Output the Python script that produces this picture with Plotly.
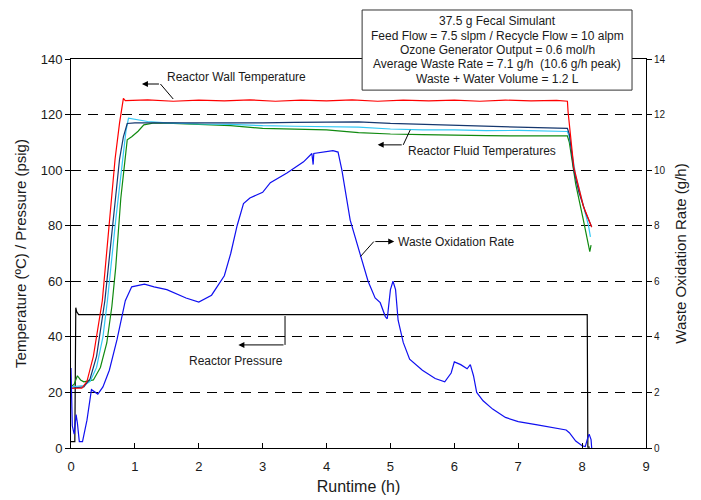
import plotly.graph_objects as go

# ---- Reactor wall temperature (degC) ----
wall_t = [0, 0.17, 0.25, 0.35, 0.49, 0.6, 0.69, 0.76, 0.82, 0.85, 1.2, 1.6, 2.0, 2.4, 2.8, 3.2,
          3.6, 4.0, 4.4, 4.8, 5.2, 5.6, 6.0, 6.4, 6.8, 7.2, 7.6, 7.77, 7.78, 7.87, 8.02, 8.15]
wall_v = [21.5, 21.5, 24, 33, 53, 80, 104, 117, 125.8, 125, 125.3, 124.8, 125.2, 124.9, 125.3, 124.8,
          125.2, 124.9, 125.3, 124.8, 125.2, 124.9, 125.2, 124.8, 125.2, 124.9, 125.1, 124.8, 121, 101, 87, 79.5]

# ---- Reactor fluid temperatures (degC) ----
fluid1_t = [0, 0.2, 0.3, 0.4, 0.53, 0.65, 0.76, 0.82, 0.88, 1.0, 1.5, 2.0, 2.5, 3.0, 3.5, 4.0,
            4.5, 5.0, 5.5, 6.0, 6.5, 7.0, 7.5, 7.77, 7.8, 7.87, 7.95, 8.05, 8.15]
fluid1_v = [21.5, 22, 25, 33, 53, 80, 104, 112, 116.8, 117, 117, 116.8, 117, 117, 117.2, 117.3,
            117.4, 116.8, 116.5, 116.2, 115.8, 115.5, 115.3, 115, 113, 100, 92, 85, 79.5]

fluid2_t = [0, 0.2, 0.3, 0.4, 0.5, 0.57, 0.7, 0.81, 0.86, 0.9, 0.95, 1.2, 1.5, 2.0, 2.5, 3.0,
            3.5, 4.0, 4.5, 5.0, 5.5, 6.0, 6.5, 7.0, 7.5, 7.77, 7.8, 7.9, 8.0, 8.1, 8.13]
fluid2_v = [22, 22.5, 24, 29, 40, 53, 82, 104, 114, 118.7, 118.5, 117.5, 117, 116.6, 116.5, 116,
            115.8, 115.7, 115.5, 114.8, 114.5, 114.5, 114.2, 114.3, 114, 113.9, 112, 98, 89, 80, 76]

fluid3_t = [0, 0.05, 0.1, 0.15, 0.2, 0.35, 0.46, 0.56, 0.64, 0.7, 0.78, 0.84, 0.88, 0.95, 1.05,
            1.14, 1.3, 1.6, 2.0, 2.5, 3.0, 3.5, 4.0, 4.5, 5.0, 5.5, 6.0, 6.5, 7.0, 7.5, 7.77,
            7.8, 7.9, 8.02, 8.1, 8.12, 8.14]
fluid3_v = [22, 23, 26, 24.5, 23.8, 24.5, 29, 37.8, 51, 65, 90, 104, 110.9, 112, 114,
            116.3, 117, 116.8, 116.5, 116, 115, 114.8, 114.5, 113.5, 113, 112.8, 112.5, 112.4, 112.3, 112.4, 112.3,
            110, 95, 82, 72, 70.7, 73]

# ---- Reactor pressure (psig) ----
press_t = [0, 0.06, 0.075, 0.09, 0.12, 2.0, 4.0, 6.0, 8.08, 8.09, 8.12]
press_v = [2.3, 2.3, 50.5, 49, 48, 48, 48, 48, 48, 0.3, 0.3]

# ---- Waste oxidation rate (g/h) ----
rate_t = [0, 0.02, 0.05, 0.08, 0.1, 0.13, 0.18, 0.25, 0.32, 0.42, 0.5, 0.6, 0.72, 0.85, 0.95,
          1.05, 1.15, 1.3, 1.5, 1.8, 2.0, 2.2, 2.4, 2.5, 2.6, 2.7, 2.8, 3.0, 3.12, 3.38, 3.64,
          3.77, 3.79, 3.8, 4.0, 4.1, 4.18, 4.24, 4.37, 4.53, 4.65, 4.76, 4.84, 4.92, 4.95,
          5.0, 5.04, 5.08, 5.12, 5.2, 5.3, 5.5, 5.7, 5.85, 5.95, 6.0, 6.1, 6.2, 6.25, 6.3,
          6.35, 6.45, 6.6, 6.8, 7.0, 7.3, 7.5, 7.75, 7.8, 7.9, 8.0, 8.05, 8.08, 8.11, 8.14, 8.15]
rate_v = [2.88, 0.8, 0.5, 1.2, 0.9, 0.23, 0.23, 1.0, 2.1, 1.94, 2.2, 2.8, 3.9, 5.3, 5.8,
          5.85, 5.9, 5.8, 5.7, 5.4, 5.25, 5.5, 6.2, 7.0, 8.0, 8.8, 9.0, 9.2, 9.55, 9.9, 10.3,
          10.6, 10.2, 10.6, 10.65, 10.7, 10.65, 10.0, 8.2, 6.9, 6.0, 5.4, 5.23, 4.73, 4.65,
          5.7, 6.0, 5.7, 4.6, 3.8, 3.2, 2.8, 2.5, 2.38, 2.7, 3.1, 3.0, 2.85, 3.0, 2.6,
          2.0, 1.7, 1.4, 1.1, 0.95, 0.83, 0.75, 0.65, 0.55, 0.25, 0.08, 0.05, 0.3, 0.5, 0.3, 0.0]

x_ticks = list(range(0, 10))
left_ticks = list(range(0, 141, 20))
right_ticks = list(range(0, 15, 2))

info_lines = [
    "37.5 g Fecal Simulant",
    "Feed Flow = 7.5 slpm / Recycle Flow = 10 alpm",
    "Ozone Generator Output = 0.6 mol/h",
    "Average Waste Rate = 7.1 g/h  (10.6 g/h peak)",
    "Waste + Water Volume = 1.2 L",
]

FONT = "Liberation Sans, Arial, sans-serif"
TXT = "#1a1a1a"

fig = go.Figure()

line_w = 1.2
fig.add_trace(go.Scatter(x=press_t, y=press_v, mode="lines", line=dict(color="#000000", width=line_w),
                         name="Reactor Pressure"))
fig.add_trace(go.Scatter(x=fluid3_t, y=fluid3_v, mode="lines", line=dict(color="#108a10", width=line_w),
                         name="Fluid 3"))
fig.add_trace(go.Scatter(x=fluid2_t, y=fluid2_v, mode="lines", line=dict(color="#33c8f5", width=line_w),
                         name="Fluid 2"))
fig.add_trace(go.Scatter(x=fluid1_t, y=fluid1_v, mode="lines", line=dict(color="#15376e", width=line_w),
                         name="Fluid 1"))
fig.add_trace(go.Scatter(x=wall_t, y=wall_v, mode="lines", line=dict(color="#ff0000", width=line_w),
                         name="Reactor Wall Temperature"))
fig.add_trace(go.Scatter(x=rate_t, y=rate_v, mode="lines", line=dict(color="#1010f0", width=line_w),
                         name="Waste Oxidation Rate", yaxis="y2"))

fig.update_layout(
    width=701, height=500,
    margin=dict(l=71, r=55, t=59, b=52),
    paper_bgcolor="white", plot_bgcolor="white",
    showlegend=False,
    font=dict(family=FONT, color=TXT, size=13),
    xaxis=dict(range=[0, 9], tickvals=x_ticks, ticks="inside", ticklen=5, tickcolor="black",
               showline=True, linecolor="black", linewidth=1, mirror=True,
               showgrid=False, zeroline=False, ticklabelstandoff=6, automargin=False,
               tickfont=dict(size=13),
               title=dict(text="Runtime (h)", font=dict(size=16), standoff=8)),
    yaxis=dict(range=[0, 140], tickvals=left_ticks, ticks="outside", ticklen=5, tickcolor="black",
               showline=True, linecolor="black", linewidth=1, automargin=False,
               showgrid=True, gridcolor="black", gridwidth=1, griddash="10px,7px",
               zeroline=False, tickfont=dict(size=13),
               title=dict(text="Temperature (\u00baC) / Pressure (psig)", font=dict(size=15), standoff=10)),
    yaxis2=dict(range=[0, 14], tickvals=right_ticks, overlaying="y", side="right",
                ticks="outside", ticklen=5, tickcolor="black", automargin=False,
                showline=True, linecolor="black", linewidth=1,
                showgrid=False, zeroline=False, tickfont=dict(size=10),
                title=dict(text="Waste Oxidation Rate (g/h)", font=dict(size=15), standoff=10)),
)

# Information box above the top-right of the plot
fig.add_shape(type="rect", xref="paper", yref="paper", x0=0.5063, x1=0.9757, y0=0.920, y1=1.126,
              line=dict(color="#333333", width=1), fillcolor="white", layer="above")
line_px = [21, 35.5, 50, 64.5, 79]
for txt, py in zip(info_lines, line_px):
    fig.add_annotation(text=txt, xref="paper", yref="paper", x=0.741, y=(448 - py) / 389,
                       xanchor="center", yanchor="middle", showarrow=False,
                       font=dict(size=12, color=TXT, family=FONT))

# Callout labels with bent leader lines
def leader(x0, y0, x1, y1):
    fig.add_shape(type="line", xref="x", yref="y", x0=x0, y0=y0, x1=x1, y1=y1,
                  line=dict(color="black", width=1))

def arrow(x_tail, y_tail, x_head, y_head):
    fig.add_annotation(x=x_head, y=y_head, ax=x_tail, ay=y_tail, xref="x", yref="y",
                       axref="x", ayref="y", text="", showarrow=True,
                       arrowhead=2, arrowsize=1.2, arrowwidth=1, arrowcolor="black")

def label(text, x, y):
    fig.add_annotation(text=text, x=x, y=y, xref="x", yref="y", showarrow=False,
                       xanchor="center", yanchor="middle", font=dict(size=12, color=TXT, family=FONT))

# Reactor wall temperature
label("Reactor Wall Temperature", 2.59, 133.5)
leader(1.60, 125.6, 1.40, 131.0)
arrow(1.40, 131.0, 1.11, 131.0)

# Reactor fluid temperatures
label("Reactor Fluid Temperatures", 6.43, 107.0)
leader(5.31, 114.5, 5.20, 109.1)
arrow(5.20, 109.1, 4.80, 109.1)

# Waste oxidation rate
label("Waste Oxidation Rate", 6.03, 74.3)
leader(4.53, 68.9, 4.74, 74.3)
arrow(4.74, 74.3, 5.06, 74.3)

# Reactor pressure
label("Reactor Pressure", 2.59, 31.3)
leader(3.35, 47.5, 3.35, 37.1)
arrow(3.35, 37.1, 2.62, 37.1)

fig.write_html("out.html")
